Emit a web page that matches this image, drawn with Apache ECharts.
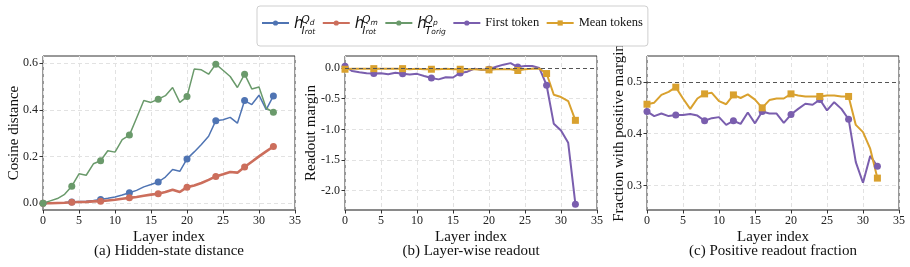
<!DOCTYPE html>
<html>
<head>
<meta charset="utf-8">
<script src="https://cdn.jsdelivr.net/npm/echarts@6/dist/echarts.min.js"></script>
<style>
html, body { margin: 0; padding: 0; background: #fff; }
#chart { width: 910px; height: 267px; }
</style>
</head>
<body>
<div id="chart"></div>
<script>
// layer index shared by every panel
var layers = [0, 1, 2, 3, 4, 5, 6, 7, 8, 9, 10, 11, 12, 13, 14, 15, 16,
              17, 18, 19, 20, 21, 22, 23, 24, 25, 26, 27, 28, 29, 30, 31, 32];

// (a) hidden-state cosine distance
var distQd = [0.000, 0.001, 0.002, 0.003, 0.005, 0.007, 0.009, 0.012, 0.016, 0.021, 0.027, 0.035,
              0.045, 0.055, 0.070, 0.080, 0.091, 0.112, 0.145, 0.137, 0.190, 0.220, 0.252, 0.287,
              0.354, 0.358, 0.368, 0.343, 0.440, 0.423, 0.463, 0.401, 0.460];
var distQm = [0.000, 0.000, 0.001, 0.002, 0.004, 0.005, 0.006, 0.008, 0.009, 0.012, 0.015, 0.019,
              0.023, 0.027, 0.032, 0.037, 0.041, 0.048, 0.058, 0.048, 0.069, 0.076, 0.087, 0.100,
              0.115, 0.124, 0.134, 0.131, 0.155, 0.178, 0.201, 0.222, 0.243];
var distQp = [0.000, 0.010, 0.020, 0.038, 0.073, 0.126, 0.120, 0.169, 0.182, 0.225, 0.219, 0.273,
              0.292, 0.365, 0.440, 0.432, 0.446, 0.461, 0.496, 0.432, 0.457, 0.575, 0.572, 0.553,
              0.596, 0.570, 0.543, 0.496, 0.553, 0.490, 0.498, 0.407, 0.390];

// (b) layer-wise readout margin
var marginFirst = [0.030, -0.050, -0.070, -0.085, -0.090, -0.085, -0.100, -0.078, -0.092, -0.105, -0.095, -0.130,
                   -0.163, -0.185, -0.150, -0.155, -0.080, -0.060, -0.010, -0.030, -0.020, 0.020, 0.055, 0.080,
                   0.015, 0.033, 0.033, 0.000, -0.280, -0.910, -1.020, -1.220, -2.220];
var marginMean = [-0.020, -0.010, -0.010, -0.010, -0.010, -0.010, -0.010, -0.010, -0.010, -0.020, -0.010, -0.020,
                  -0.020, -0.020, -0.010, -0.020, -0.020, -0.020, -0.020, -0.030, -0.030, -0.020, -0.020, -0.020,
                  -0.040, -0.020, -0.010, -0.010, -0.090, -0.435, -0.473, -0.538, -0.853];

// (c) fraction with positive margin
var fracFirst = [0.443, 0.434, 0.439, 0.434, 0.436, 0.436, 0.438, 0.435, 0.425, 0.430, 0.432, 0.417,
                 0.425, 0.419, 0.441, 0.420, 0.443, 0.439, 0.439, 0.421, 0.437, 0.448, 0.458, 0.456,
                 0.466, 0.445, 0.461, 0.448, 0.428, 0.345, 0.305, 0.357, 0.337];
var fracMean = [0.457, 0.460, 0.475, 0.481, 0.490, 0.468, 0.448, 0.468, 0.477, 0.479, 0.463, 0.457,
                0.475, 0.469, 0.476, 0.466, 0.450, 0.465, 0.468, 0.468, 0.477, 0.474, 0.472, 0.472,
                0.472, 0.474, 0.474, 0.472, 0.472, 0.417, 0.403, 0.371, 0.314];

// tick labels and reference lines
var xTicks = [0, 5, 10, 15, 20, 25, 30, 35];
var yTicksA = [0.0, 0.2, 0.4, 0.6];
var yTicksB = [-2.0, -1.5, -1.0, -0.5, 0.0];
var yTicksC = [0.3, 0.4, 0.5];
var refLineB = 0;
var refLineC = 0.5;

var captions = ['(a) Hidden-state distance', '(b) Layer-wise readout', '(c) Positive readout fraction'];
var yNames = ['Cosine distance', 'Readout margin', 'Fraction with positive margin'];

var SERIF = '"Liberation Serif", "Times New Roman", serif';
var MATH = '"DejaVu Sans"';
var markEvery = 4;

var gridLeft = [43, 345, 647];
var gridTop = 56, gridW = 252, gridH = 154;

function lineSeries(name, values, color, width, symbol, idx) {
    return {
        name: name,
        type: 'line',
        xAxisIndex: idx,
        yAxisIndex: idx,
        data: layers.map(function (l, i) { return [l, values[i]]; }),
        symbol: symbol,
        symbolSize: function (v, p) { return p.dataIndex % markEvery === 0 ? 7 : 0; },
        showAllSymbol: true,
        lineStyle: { color: color, width: width },
        itemStyle: { color: color },
        emphasis: { disabled: true },
        animation: false
    };
}

function refLine(value) {
    return {
        silent: true,
        symbol: 'none',
        label: { show: false },
        lineStyle: { color: '#555', type: [4, 3], width: 1 },
        data: [{ yAxis: value }]
    };
}

function xAxisFor(i) {
    return {
        gridIndex: i, type: 'value', min: 0, max: 35, interval: 5,
        name: 'Layer index', nameLocation: 'middle', nameGap: 19.5, nameMoveOverlap: false,
        nameTextStyle: { fontFamily: SERIF, fontSize: 15, color: '#111' },
        axisLine: { show: true, onZero: false, lineStyle: { color: '#8a8a8a', width: 2 } },
        axisTick: { show: true, length: 3.5, lineStyle: { color: '#333' } },
        axisLabel: { fontFamily: SERIF, fontSize: 12, color: '#222', margin: 5,
                     customValues: xTicks },
        splitLine: { show: true, lineStyle: { color: '#e2e2e2', type: [4, 3], width: 1 } }
    };
}

function yAxisFor(i, min, max, ticks, gap) {
    return {
        gridIndex: i, type: 'value', min: min, max: max,
        name: yNames[i], nameLocation: 'middle', nameGap: gap, nameMoveOverlap: false,
        nameTextStyle: { fontFamily: SERIF, fontSize: 15, color: '#111' },
        axisLine: { show: false },
        axisTick: { show: true, length: 3.5, lineStyle: { color: '#333' }, customValues: ticks },
        axisLabel: { fontFamily: SERIF, fontSize: 12, color: '#222', margin: 5,
                     customValues: ticks,
                     formatter: function (v) { return v.toFixed(1); } },
        splitLine: { show: true, lineStyle: { color: '#e2e2e2', type: [4, 3], width: 1 } }
    };
}

var C_BLUE = '#4f74b3', C_RED = '#cc6e5c', C_GREEN = '#6a9a6b',
    C_PURPLE = '#7a5eae', C_GOLD = '#d9a12e';

var rich = {
    h:   { fontFamily: MATH, fontStyle: 'italic', fontSize: 15, width: 7.5, lineHeight: 22, padding: [3, 0, 0, 0], color: '#111' },
    sp:  { fontFamily: MATH, fontStyle: 'italic', fontSize: 10.5, lineHeight: 22, padding: [0, 0, 6, 0], color: '#111' },
    sps: { fontFamily: MATH, fontStyle: 'italic', fontSize: 7.5, width: -8.2, lineHeight: 22, padding: [1, 0, 0, 0], color: '#111' },
    sb:  { fontFamily: MATH, fontStyle: 'italic', fontSize: 10.5, lineHeight: 22, padding: [17, 0, 0, 0], color: '#111' },
    sbs: { fontFamily: MATH, fontStyle: 'italic', fontSize: 7.5, lineHeight: 22, padding: [19, 0, 0, 0], color: '#111' }
};
var legendLabels = {
    Qd: '{h|h}{sp|Q}{sps|d}{sb|I}{sbs|rot}',
    Qm: '{h|h}{sp|Q}{sps|m}{sb|I}{sbs|rot}',
    Qp: '{h|h}{sp|Q}{sps|p}{sb|T}{sbs|orig}'
};

var option = {
    animation: false,
    backgroundColor: '#fff',
    textStyle: { fontFamily: SERIF },
    legend: {
        left: 257, top: 6,
        padding: [3, 5, 9, 4],
        itemWidth: 27, itemHeight: 6.5, itemGap: 6.5,
        borderColor: '#cfcfcf', borderWidth: 1, borderRadius: 3,
        backgroundColor: '#fff',
        selectedMode: false,
        data: ['Qd', 'Qm', 'Qp', 'First token', 'Mean tokens'],
        formatter: function (name) { return legendLabels[name] || name; },
        textStyle: { fontFamily: SERIF, fontSize: 12.5, color: '#111', lineHeight: 22, rich: rich }
    },
    grid: gridLeft.map(function (l) {
        return { left: l, top: gridTop, width: gridW, height: gridH, show: true,
                 borderColor: '#333', borderWidth: 1, backgroundColor: 'transparent',
                 outerBoundsMode: 'none', containLabel: false };
    }),
    xAxis: [xAxisFor(0), xAxisFor(1), xAxisFor(2)],
    yAxis: [
        yAxisFor(0, -0.029, 0.631, yTicksA, 21.5),
        yAxisFor(1, -2.315, 0.196, yTicksB, 26.5),
        yAxisFor(2, 0.2523, 0.5503, yTicksC, 20.5)
    ],
    series: [
        lineSeries('Qd', distQd, C_BLUE, 1.5, 'circle', 0),
        lineSeries('Qm', distQm, C_RED, 2.6, 'circle', 0),
        lineSeries('Qp', distQp, C_GREEN, 1.5, 'circle', 0),
        Object.assign(lineSeries('First token', marginFirst, C_PURPLE, 2, 'circle', 1), { markLine: refLine(refLineB) }),
        lineSeries('Mean tokens', marginMean, C_GOLD, 2, 'rect', 1),
        Object.assign(lineSeries('First token', fracFirst, C_PURPLE, 2, 'circle', 2), { markLine: refLine(refLineC) }),
        lineSeries('Mean tokens', fracMean, C_GOLD, 2, 'rect', 2)
    ],
    graphic: captions.map(function (t, i) {
        return {
            type: 'text',
            x: gridLeft[i] + gridW / 2,
            y: 251,
            silent: true,
            style: { text: t, fontFamily: SERIF, fontSize: 15, fill: '#111',
                     align: 'center', verticalAlign: 'middle' }
        };
    })
};

var chart = echarts.init(document.getElementById('chart'), null, { renderer: 'canvas' });
chart.setOption(option);
</script>
</body>
</html>
